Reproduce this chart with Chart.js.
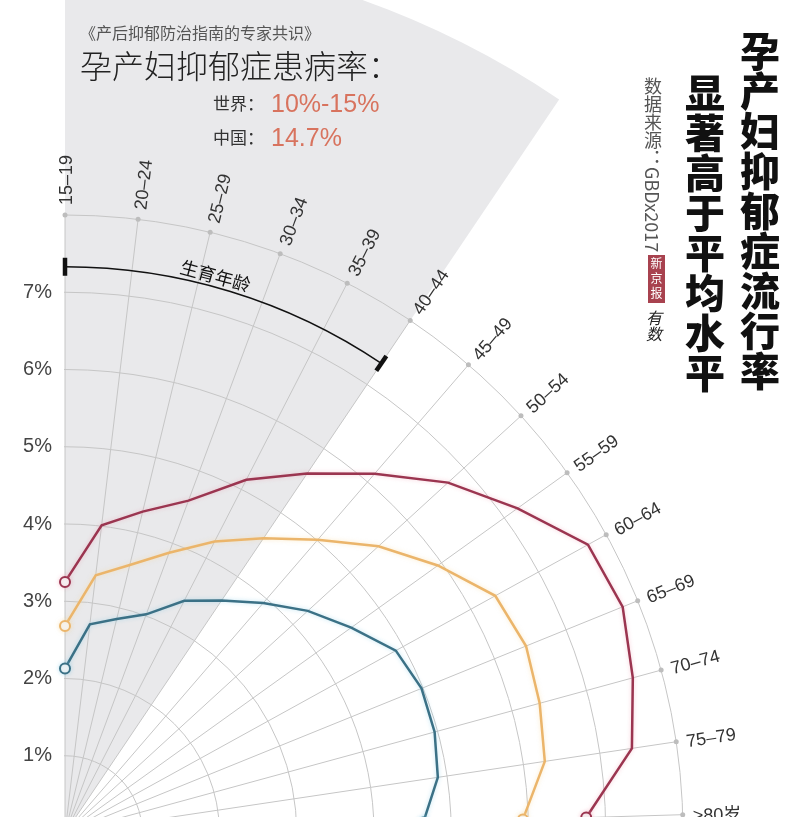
<!DOCTYPE html>
<html>
<head>
<meta charset="utf-8">
<script src="https://cdn.jsdelivr.net/npm/chart.js@4.4.0/dist/chart.umd.min.js"></script>
<style>
    html, body { margin: 0; padding: 0; overflow: hidden; background: #fff; }
    #wrap { position: relative; width: 800px; height: 817px; overflow: hidden; font-family: "Noto Sans CJK SC", sans-serif; }
    #chart { position: absolute; left: -600px; top: 0; }
    .t { position: absolute; white-space: nowrap; line-height: 1; }
    .v { position: absolute; writing-mode: vertical-rl; white-space: nowrap; line-height: 1; }
    .num { font-family: "Liberation Sans", sans-serif; color: #d8735e; font-size: 25px; }
</style>
</head>
<body>
<div id="wrap">
    <canvas id="chart" width="1400" height="1500"></canvas>

    <div class="t" style="left:80px;top:24px;font-size:16px;color:#555;">《产后抑郁防治指南的专家共识》</div>
    <div class="t" style="left:80px;top:48px;font-size:32px;color:#222;font-weight:300;">孕产妇抑郁症患病率：</div>
    <div class="t" style="left:213px;top:94px;font-size:17px;color:#333;">世界：</div>
    <div class="t num" style="left:271px;top:91px;">10%-15%</div>
    <div class="t" style="left:213px;top:128px;font-size:17px;color:#333;">中国：</div>
    <div class="t num" style="left:271px;top:125px;">14.7%</div>

    <div class="v" style="left:740px;top:31px;font-size:40px;font-weight:900;color:#111;">孕产妇抑郁症流行率</div>
    <div class="v" style="left:685px;top:73px;font-size:40px;font-weight:900;color:#111;">显著高于平均水平</div>
    <div class="v" style="left:644px;top:77px;font-size:18px;color:#555;">数据来源：GBDx2017</div>
    <div class="v" style="left:648px;top:255px;width:17px;height:48px;background:#a8424f;color:#fff;font-size:12px;text-align:center;line-height:17px;letter-spacing:3px;">新京报</div>
    <div class="v" style="left:646px;top:310px;font-size:16px;color:#222;font-style:italic;">有数</div>
</div>

<script>
// age groups, clockwise from the top
var CATEGORIES = ['15–19', '20–24', '25–29', '30–34', '35–39', '40–44', '45–49',
    '50–54', '55–59', '60–64', '65–69', '70–74', '75–79', '>80岁'];

// prevalence (%) per age group
var SERIES_RED = [3.25, 4.01, 4.28, 4.59, 5.14, 5.61, 6.14, 6.72, 7.21, 7.73, 7.79, 7.62, 7.42, 6.75];
var SERIES_ORANGE = [2.68, 3.36, 3.57, 3.87, 4.24, 4.60, 5.01, 5.50, 5.94, 6.36, 6.44, 6.37, 6.28, 5.93];
var SERIES_BLUE = [2.13, 2.72, 2.85, 3.02, 3.38, 3.63, 3.93, 4.26, 4.56, 4.89, 4.98, 4.96, 4.88, 4.64];

var TICK_VALUES = [1, 2, 3, 4, 5, 6, 7];
var TICK_LABELS = ['1%', '2%', '3%', '4%', '5%', '6%', '7%'];

var AXIS_MAX = 8;
var SLOTS = 53;          // slots round the full circle, so 14 groups take a quarter
var AGE_END = 5;         // reproductive age band ends on 40-44
var SHADE_VALUE = 11.45; // outer edge of the grey band
var ARC_VALUE = 7.33;    // the 生育年龄 bracket

var GRID = '#c6c6c6';
var GLOW = ['rgba(120,200,230,0.45)', 'rgba(250,215,150,0.5)', 'rgba(240,150,170,0.45)'];

function pad(arr, fill) {
    var out = arr.slice();
    while (out.length < SLOTS) out.push(fill);
    return out;
}

function series(data, color) {
    return {
        data: pad(data, null),
        borderColor: color,
        borderWidth: 2.5,
        fill: false,
        spanGaps: false,
        pointRadius: function (c) {
            return (c.dataIndex === 0 || c.dataIndex === CATEGORIES.length - 1) ? 5 : 0;
        },
        pointHoverRadius: 0,
        pointBorderWidth: 2,
        pointBorderColor: color,
        pointBackgroundColor: '#f6f6f6'
    };
}

var decor = {
    id: 'decor',
    beforeDraw: function (chart) {
        var s = chart.scales.r, ctx = chart.ctx;
        var end = s.getPointPosition(AGE_END, 0).angle;

        // grey band behind the reproductive ages
        ctx.save();
        ctx.fillStyle = '#e9e9eb';
        ctx.beginPath();
        ctx.moveTo(s.xCenter, s.yCenter);
        ctx.arc(s.xCenter, s.yCenter, s.getDistanceFromCenterForValue(SHADE_VALUE), -Math.PI / 2, end);
        ctx.closePath();
        ctx.fill();
        ctx.restore();

        // keep the grid to the upper right quarter
        ctx.save();
        ctx.beginPath();
        ctx.rect(s.xCenter - 1, 0, chart.width, s.yCenter + 1);
        ctx.clip();
    },
    beforeDatasetsDraw: function (chart) {
        chart.ctx.restore();
    },
    beforeDatasetDraw: function (chart, args) {
        var ctx = chart.ctx;
        ctx.save();
        ctx.shadowColor = GLOW[args.index];
        ctx.shadowBlur = 4;
    },
    afterDatasetDraw: function (chart) {
        chart.ctx.restore();
    },
    afterDraw: function (chart) {
        var s = chart.scales.r, ctx = chart.ctx;
        var xc = s.xCenter, yc = s.yCenter;
        var rOuter = s.getDistanceFromCenterForValue(AXIS_MAX);
        var end = s.getPointPosition(AGE_END, 0).angle;

        ctx.save();
        // spoke ends and age labels
        CATEGORIES.forEach(function (lab, i) {
            var p = s.getPointPosition(i, rOuter);
            ctx.fillStyle = '#bdbdbd';
            ctx.beginPath();
            ctx.arc(p.x, p.y, 2.5, 0, Math.PI * 2);
            ctx.fill();

            var q = s.getPointPosition(i, rOuter + 10);
            ctx.save();
            ctx.translate(q.x, q.y);
            ctx.rotate(q.angle);
            ctx.fillStyle = '#333';
            ctx.font = '18px "Liberation Sans", "Noto Sans CJK SC"';
            ctx.textAlign = 'left';
            ctx.textBaseline = 'middle';
            ctx.fillText(lab, 0, 2);
            ctx.restore();
        });

        // value labels on the vertical axis
        ctx.fillStyle = '#444';
        ctx.font = '20px "Liberation Sans"';
        ctx.textAlign = 'right';
        ctx.textBaseline = 'middle';
        TICK_VALUES.forEach(function (v, i) {
            ctx.fillText(TICK_LABELS[i], xc - 13, yc - s.getDistanceFromCenterForValue(v));
        });

        // 生育年龄 bracket
        var rA = s.getDistanceFromCenterForValue(ARC_VALUE);
        ctx.strokeStyle = '#111';
        ctx.lineWidth = 1.5;
        ctx.beginPath();
        ctx.arc(xc, yc, rA, -Math.PI / 2, end);
        ctx.stroke();
        ctx.lineWidth = 4.5;
        [-Math.PI / 2, end].forEach(function (a) {
            ctx.beginPath();
            ctx.moveTo(xc + Math.cos(a) * (rA - 9), yc + Math.sin(a) * (rA - 9));
            ctx.lineTo(xc + Math.cos(a) * (rA + 9), yc + Math.sin(a) * (rA + 9));
            ctx.stroke();
        });
        var mid = -Math.PI / 2 + 0.445 * (end + Math.PI / 2);
        ctx.translate(xc + Math.cos(mid) * (rA + 4), yc + Math.sin(mid) * (rA + 4));
        ctx.rotate(mid + Math.PI / 2);
        ctx.fillStyle = '#111';
        ctx.font = '18px "Noto Sans CJK SC"';
        ctx.textAlign = 'center';
        ctx.textBaseline = 'alphabetic';
        ctx.fillText('生育年龄', 0, 0);
        ctx.restore();
    }
};

var ctx = document.getElementById('chart').getContext('2d');
new Chart(ctx, {
    type: 'radar',
    data: {
        labels: pad(CATEGORIES, ''),
        datasets: [
            series(SERIES_BLUE, '#3b7186'),
            series(SERIES_ORANGE, '#ebb56b'),
            series(SERIES_RED, '#9b3550')
        ]
    },
    options: {
        responsive: false,
        animation: false,
        events: [],
        layout: { padding: { left: 47, right: 117, top: 215, bottom: 49 } },
        plugins: { legend: { display: false }, tooltip: { enabled: false } },
        scales: {
            r: {
                min: 0,
                max: AXIS_MAX,
                startAngle: 0,
                ticks: { display: false, stepSize: 1 },
                pointLabels: { display: false },
                grid: { circular: true, color: GRID, lineWidth: 1 },
                angleLines: {
                    color: function (c) { return c.index < CATEGORIES.length ? GRID : 'rgba(0,0,0,0)'; },
                    lineWidth: 1
                }
            }
        }
    },
    plugins: [decor]
});
</script>
</body>
</html>
